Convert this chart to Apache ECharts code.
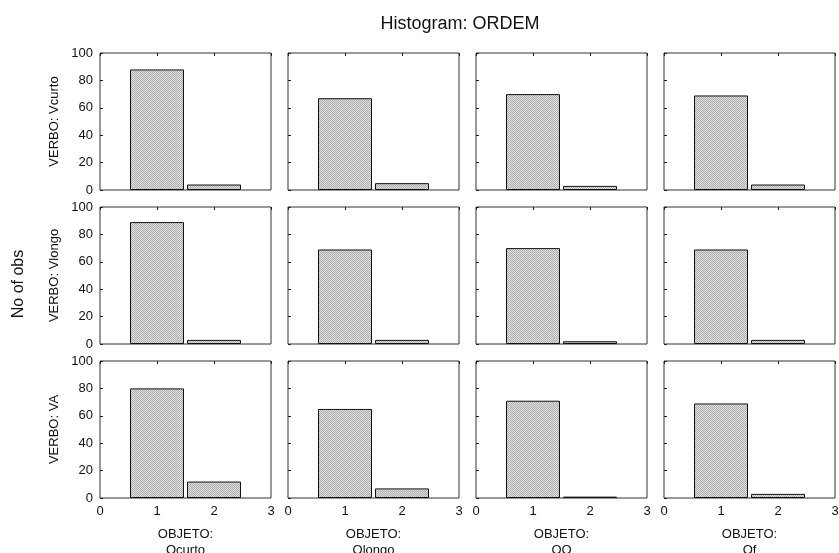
<!DOCTYPE html>
<html>
<head>
<meta charset="utf-8">
<script src="https://cdn.jsdelivr.net/npm/echarts@6/dist/echarts.min.js"></script>
<style>
  html, body { margin: 0; padding: 0; background: #fff; }
  #hist-chart { width: 839px; height: 553px; }
</style>
</head>
<body>
<div id="hist-chart"></div>
<script>
// bins on x axis
const bins = [1, 2];

const rowNames = ['VERBO: Vcurto', 'VERBO: Vlongo', 'VERBO: VA'];
const colNames = ['OBJETO:\nOcurto', 'OBJETO:\nOlongo', 'OBJETO:\nOO', 'OBJETO:\nOf'];

// counts per panel, one array per row, [bin1, bin2] per column
const vcurto = [[88, 4], [67, 5], [70, 3], [69, 4]];
const vlongo = [[89, 3], [69, 3], [70, 2], [69, 3]];
const va = [[80, 12], [65, 7], [71, 1], [69, 3]];
const counts = [vcurto, vlongo, va];

// stippled gray fill like the original
const makePattern = () => {
  const c = document.createElement('canvas');
  c.width = 2; c.height = 2;
  const ctx = c.getContext('2d');
  ctx.fillStyle = '#e0e0e0'; ctx.fillRect(0, 0, 2, 2);
  ctx.fillStyle = '#adadad';
  ctx.fillRect(0, 0, 1, 1);
  ctx.fillRect(1, 1, 1, 1);
  return c;
};
const fill = { image: makePattern(), repeat: 'repeat' };

const colLeft = [100, 288, 476, 664];
const rowTop = [53, 207, 361];
const cellW = 171, cellH = 137;
const font = 'Liberation Sans, Arial, sans-serif';

const grid = [], xAxis = [], yAxis = [], series = [];

for (let r = 0; r < 3; r++) {
  for (let c = 0; c < 4; c++) {
    const g = grid.length;
    const lastRow = r === 2, firstCol = c === 0;
    grid.push({
      left: colLeft[c], top: rowTop[r], width: cellW, height: cellH,
      outerBoundsMode: 'none',
      show: true, borderColor: '#333', borderWidth: 1, backgroundColor: '#fff'
    });
    // bottom axis: labels only on last row
    xAxis.push({
      gridIndex: g, type: 'value', min: 0, max: 3, interval: 1,
      position: 'bottom',
      axisLine: { show: false }, axisTick: { show: false }, splitLine: { show: false },
      axisLabel: { show: lastRow, color: '#111', fontSize: 13, fontFamily: font, margin: 7 },
      name: lastRow ? colNames[c] : '',
      nameLocation: 'middle', nameGap: 28,
      nameTextStyle: { color: '#111', fontSize: 13, fontFamily: font, lineHeight: 16, verticalAlign: 'top' }
    });
    // top axis: inside ticks only
    xAxis.push({
      gridIndex: g, type: 'value', min: 0, max: 3, interval: 1,
      position: 'top',
      axisLine: { show: false },
      axisTick: { show: true, inside: true, length: 3, lineStyle: { color: '#222' } },
      splitLine: { show: false }, axisLabel: { show: false }
    });
    yAxis.push({
      gridIndex: g, type: 'value', min: 0, max: 100, interval: 20,
      axisLine: { show: false },
      axisTick: { show: true, inside: true, length: 3, lineStyle: { color: '#222' } },
      splitLine: { show: false },
      axisLabel: { show: firstCol, color: '#111', fontSize: 13, fontFamily: font, margin: 7 },
      name: firstCol ? rowNames[r] : '',
      nameLocation: 'middle', nameRotate: 90, nameGap: 39,
      nameTextStyle: { color: '#111', fontSize: 13, fontFamily: font }
    });
    series.push({
      type: 'bar',
      xAxisIndex: g * 2, yAxisIndex: g,
      barWidth: 54,
      data: bins.map((b, i) => [b, counts[r][c][i]]),
      itemStyle: { color: fill, borderColor: '#111', borderWidth: 1 },
      silent: true
    });
  }
}

const options = {
  animation: false,
  grid, xAxis, yAxis, series,
  graphic: [
    {
      type: 'text', x: 460, y: 24,
      style: { text: 'Histogram: ORDEM', fontSize: 18, fontFamily: font, fill: '#111', align: 'center', verticalAlign: 'middle' }
    },
    {
      type: 'text', x: 19, y: 284, rotation: Math.PI / 2,
      style: { text: 'No of obs', fontSize: 16, fontFamily: font, fill: '#111', align: 'center', verticalAlign: 'middle' }
    }
  ]
};

const chart = echarts.init(document.getElementById('hist-chart'));
chart.setOption(options);
</script>
</body>
</html>
